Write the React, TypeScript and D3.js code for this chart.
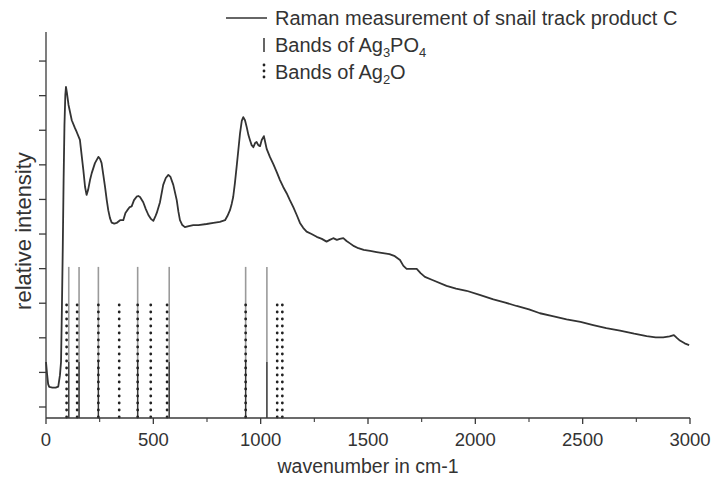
import React from "react";
import * as d3 from "d3";

// Raman spectrum (wavenumber cm-1, relative intensity in tick units)
const wavenumbers = [0,5,10,15,30,45,57,65,70,74,78,82,86,90,93,97,105,120,135,143,158,166,174,182,189,196,205,213,228,244,252,259,267,275,283,290,298,306,318,329,345,360,370,379,390,399,410,422,430,438,453,465,477,490,500,510,516,531,546,558,570,580,593,609,617,624,635,647,665,686,710,748,780,810,834,845,857,865,872,880,888,896,904,912,919,927,935,943,950,958,966,974,981,989,997,1005,1015,1021,1028,1043,1059,1075,1090,1105,1121,1136,1152,1168,1183,1198,1214,1237,1261,1285,1307,1322,1338,1355,1369,1385,1400,1416,1435,1455,1480,1510,1540,1570,1600,1625,1649,1665,1680,1700,1727,1745,1765,1800,1866,1910,1959,2020,2084,2140,2192,2250,2301,2360,2425,2490,2549,2610,2674,2740,2798,2840,2875,2905,2925,2940,2953,2975,2996];
const intensities = [1.30,0.95,0.66,0.58,0.56,0.56,0.59,0.92,1.30,2.80,4.54,6.56,8.15,9.02,9.25,9.10,8.73,8.29,8.06,7.95,7.72,7.28,6.85,6.36,6.13,6.27,6.56,6.76,7.05,7.23,7.17,7.05,6.71,6.36,5.98,5.69,5.46,5.33,5.30,5.32,5.40,5.40,5.61,5.69,5.78,5.80,5.98,6.08,6.10,6.07,5.92,5.72,5.55,5.43,5.38,5.52,5.61,5.92,6.42,6.62,6.71,6.65,6.42,5.98,5.64,5.40,5.26,5.20,5.23,5.26,5.26,5.29,5.32,5.35,5.40,5.52,5.69,5.87,6.07,6.47,6.94,7.43,7.92,8.27,8.38,8.29,8.09,7.86,7.72,7.57,7.51,7.63,7.66,7.57,7.54,7.72,7.83,7.66,7.46,7.23,7.02,6.79,6.56,6.36,6.18,5.98,5.78,5.55,5.32,5.18,5.07,5.00,4.92,4.86,4.78,4.83,4.88,4.83,4.86,4.88,4.80,4.73,4.65,4.59,4.54,4.51,4.48,4.45,4.42,4.36,4.25,4.08,3.99,3.99,3.99,3.87,3.76,3.67,3.50,3.42,3.36,3.24,3.11,3.02,2.92,2.82,2.71,2.63,2.53,2.46,2.37,2.28,2.21,2.12,2.05,2.01,2.01,2.04,2.08,1.99,1.92,1.84,1.79];

const ag3po4Bands = [106, 154, 244, 427, 574, 930, 1029];
const ag2oBands = [96, 145, 244, 341, 427, 488, 564, 930, 1077, 1101];
const ag3po4Top = 4.05;
const ag2oTop = 3.12;
const ag3po4DarkTop = 1.3;

const xTicks = [0, 500, 1000, 1500, 2000, 2500, 3000];
const xMinorTicks = [250, 750, 1250, 1750, 2250, 2750];
const yTicks = [0, 1, 2, 3, 4, 5, 6, 7, 8, 9, 10];

const FONT = "'Liberation Sans', Arial, Helvetica, sans-serif";

export default function App() {
  const W = 713, H = 480;
  const x = d3.scaleLinear().domain([0, 3000]).range([46, 690]);
  const y = d3.scaleLinear().domain([-0.318, 10.84]).range([418, 32]);
  const pts = wavenumbers.map((w, i) => [w, intensities[i]] as [number, number]);
  const line = d3.line<[number, number]>().x(d => x(d[0])).y(d => y(d[1]));
  const y0 = y.range()[0];
  const axisColor = "#3a3a3a";
  const textColor = "#333";

  return (
    <svg width={W} height={H} style={{ position: "absolute", left: 0, top: 0, background: "#fff" }} fontFamily={FONT}>
      {ag3po4Bands.map((b, i) => (
        <g key={"s" + i}>
          <line x1={x(b)} x2={x(b)} y1={y0} y2={y(ag3po4Top)} stroke="#9a9a9a" strokeWidth={1.6} />
          <line x1={x(b)} x2={x(b)} y1={y0} y2={y(ag3po4DarkTop)} stroke="#333" strokeWidth={1.2} />
        </g>
      ))}
      {ag2oBands.map((b, i) => (
        <line key={"d" + i} x1={x(b)} x2={x(b)} y1={y0 - 1} y2={y(ag2oTop)} stroke="#222" strokeWidth={2.8} strokeLinecap="round" strokeDasharray="0,7" />
      ))}
      <path d={line(pts) || ""} fill="none" stroke="#333" strokeWidth={1.8} strokeLinejoin="round" />
      <line x1={x(0)} x2={x(3000)} y1={y0} y2={y0} stroke={axisColor} strokeWidth={1.3} />
      <line x1={x(0)} x2={x(0)} y1={y0} y2={32} stroke={axisColor} strokeWidth={1.3} />
      {xTicks.map(t => (
        <g key={"xt" + t}>
          <line x1={x(t)} x2={x(t)} y1={y0} y2={y0 + 6} stroke={axisColor} strokeWidth={1.3} />
          <text x={x(t)} y={446} textAnchor="middle" fontSize={18.5} fill={textColor}>{t}</text>
        </g>
      ))}
      {xMinorTicks.map(t => (
        <line key={"xm" + t} x1={x(t)} x2={x(t)} y1={y0} y2={y0 + 4} stroke={axisColor} strokeWidth={1.1} />
      ))}
      {yTicks.map(t => (
        <line key={"yt" + t} x1={x(0) - 7} x2={x(0)} y1={y(t)} y2={y(t)} stroke={axisColor} strokeWidth={1.3} />
      ))}
      <text x={368} y={473} textAnchor="middle" fontSize={19.5} fill={textColor}>wavenumber in cm-1</text>
      <text transform={`translate(31,231) rotate(-90)`} textAnchor="middle" fontSize={22} fill={textColor}>relative intensity</text>
      <line x1={226} x2={267} y1={18} y2={18} stroke="#333" strokeWidth={1.6} />
      <text x={275} y={25} fontSize={20} fill={textColor}>Raman measurement of snail track product C</text>
      <line x1={264} x2={264} y1={38} y2={52} stroke="#555" strokeWidth={1.8} />
      <text x={275} y={52} fontSize={20} fill={textColor}>
        Bands of Ag<tspan fontSize={13} dy={5}>3</tspan><tspan dy={-5}>PO</tspan><tspan fontSize={13} dy={5}>4</tspan>
      </text>
      <line x1={264} x2={264} y1={65} y2={78} stroke="#222" strokeWidth={2.8} strokeLinecap="round" strokeDasharray="0,6" />
      <text x={275} y={79} fontSize={20} fill={textColor}>
        Bands of Ag<tspan fontSize={13} dy={5}>2</tspan><tspan dy={-5}>O</tspan>
      </text>
    </svg>
  );
}
